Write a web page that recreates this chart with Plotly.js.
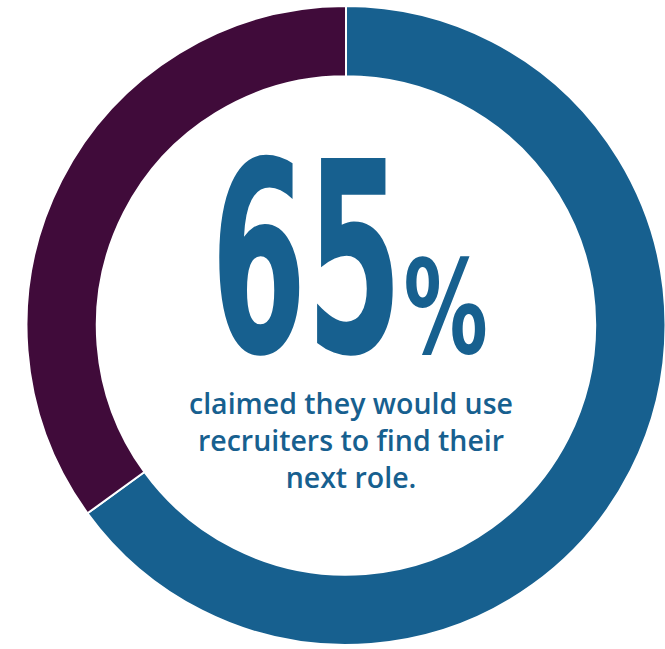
<!DOCTYPE html>
<html><head><meta charset="utf-8">
<script src="https://cdn.plot.ly/plotly-3.0.1.min.js"></script>
<style>html,body{margin:0;padding:0;overflow:hidden;background:#fff;width:665px;height:649px}</style>
</head><body>
<div id="chart"></div>
<script>
const labels = ["Would use recruiters", "Would not"];
const values = [65, 35];
const colors = ["#17608F", "#400B3A"];
const bigNumber = "65";
const caption = "claimed they would use<br>recruiters to find their<br>next role.";

const W = 692, H = 649;
const data = [{
  type: "pie",
  labels: labels,
  values: values,
  hole: 0.78,
  sort: false,
  direction: "clockwise",
  rotation: 0,
  textinfo: "none",
  hoverinfo: "none",
  marker: {colors: colors, line: {color: "#ffffff", width: 2}},
  domain: {x: [26.5/W, 665.5/W], y: [4/H, 643/H]},
  showlegend: false
}];
const layout = {
  width: W, height: H,
  margin: {l: 0, r: 0, t: 0, b: 0},
  paper_bgcolor: "#ffffff",
  showlegend: false,
  annotations: [
    {text: bigNumber, xref: "paper", yref: "paper", x: 306/W, y: 1 - 260/H,
     xanchor: "center", yanchor: "middle", showarrow: false,
     font: {family: "DejaVu Sans Condensed, DejaVu Sans", size: 266, weight: 700, color: "#17608F"}},
    {text: "%", xref: "paper", yref: "paper", x: 445/W, y: 1 - 308/H,
     xanchor: "center", yanchor: "middle", showarrow: false,
     font: {family: "DejaVu Sans Condensed, DejaVu Sans", size: 130, weight: 700, color: "#17608F"}},
    {text: caption, xref: "paper", yref: "paper", x: 351/W, y: 1 - 440/H,
     xanchor: "center", yanchor: "middle", showarrow: false, align: "center",
     font: {family: "Open Sans", size: 28.5, weight: 600, color: "#17608F"}}
  ]
};
Plotly.newPlot("chart", data, layout, {displayModeBar: false, staticPlot: true}).then(function () {
  const texts = document.querySelectorAll(".annotation-text");
  const scales = [0.575, 0.72];
  scales.forEach(function (s, i) {
    const t = texts[i];
    if (!t) return;
    t.style.transformBox = "fill-box";
    t.style.transformOrigin = "center";
    t.style.transform = "scaleX(" + s + ")";
  });
});
</script>
</body></html>
